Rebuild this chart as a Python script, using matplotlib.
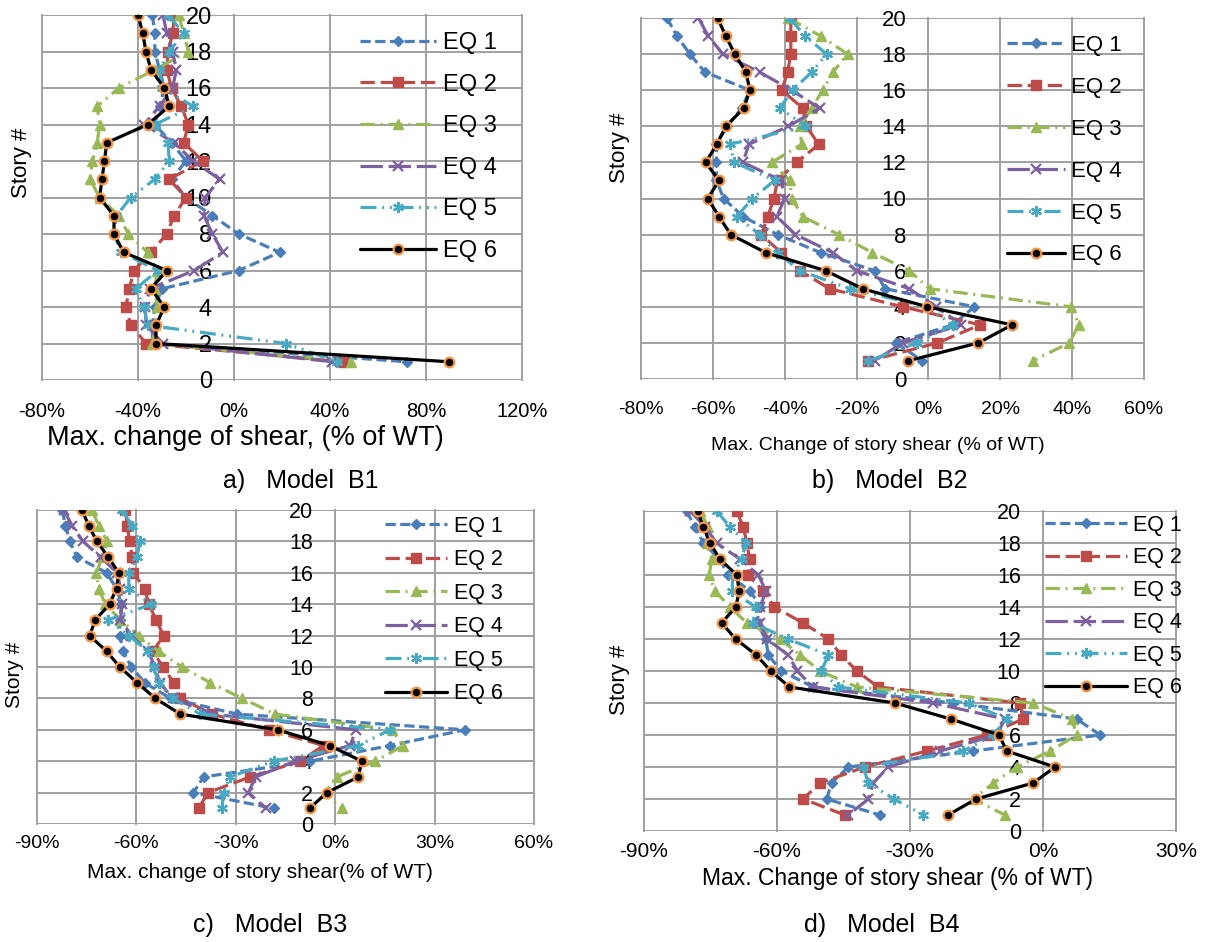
import matplotlib
matplotlib.use('Agg')
import matplotlib.pyplot as plt
from matplotlib.ticker import FuncFormatter
import numpy as np

plt.rcParams['font.family'] = ['Liberation Sans', 'DejaVu Sans']

W, H = 1207, 942

# story numbers, top to bottom
stories = list(range(20, 0, -1))
labels = ['EQ 1', 'EQ 2', 'EQ 3', 'EQ 4', 'EQ 5', 'EQ 6']

# Model B1 (% of WT), story 20 -> 1
b1_eq1 = [-34, -33, -33, -31, -29, -31, -33, -26, -20, -26, -20, -9, 2, 19, 2, -30, -33, -34, -34, 72]
b1_eq2 = [-25, -25.5, -27.5, -28, -26, -22, -19, -21, -13, -27, -20, -25, -28, -34.6, -41.6, -43.7, -45, -43, -36.6, 45.4]
b1_eq3 = [-23, -21, -19, -33, -48, -57, -56, -57, -59, -60, -56, -48, -44, -36, -32, -33, -32, -33, -34, 48.7]
b1_eq4 = [-29.6, -28, -25.6, -24, -25.6, -31, -37.5, -25, -17, -6, -12, -12.5, -9, -4.6, -16.6, -35, -37, -36.6, -29.6, 41]
b1_eq5 = [-27.5, -21, -27, -31, -30, -17, -33, -27.5, -27, -33, -43, -49, -50, -47, -31.7, -41, -37.5, -36, 21.7, 43]
b1_eq6 = [-40, -38, -36.7, -34.6, -29, -27, -36, -53, -54, -55, -56, -50, -50, -46, -28, -34.6, -29, -32.5, -32.5, 89.6]

# Model B2
b2_eq1 = [-72.8, -70, -66.4, -62.2, -49.7, -52, -56, -59, -59, -59, -57, -51.6, -42, -30, -15, -12, 12.8, 6.7, -8.9, -1.7]
b2_eq2 = [-38.3, -38.3, -38.3, -39.2, -40.8, -35, -34, -30.5, -36.7, -42, -43, -44.7, -46.5, -41, -35.8, -27.5, -7.2, 14.4, 2.5, -16.7]
b2_eq3 = [-39, -30, -22.5, -26.6, -29.4, -32.5, -35.8, -35.3, -43.6, -38.6, -38, -35, -25, -15.6, -5.3, 0.3, 39.7, 41.9, 39.2, 29]
b2_eq4 = [-64, -61.3, -57.2, -47, -38, -30.3, -39, -50, -51.6, -41, -40, -42.2, -37, -26.6, -20, -5.3, 2.2, 9.2, -7.2, -15]
b2_eq5 = [-38.6, -34.4, -28.3, -32.5, -37.8, -41.4, -34, -55.3, -54, -42.8, -49, -53.3, -47, -42, -35.8, -21.9, -0.3, 6.7, -3.3, -16.7]
b2_eq6 = [-58.7, -56.4, -53.9, -50.8, -49.7, -51.4, -56.4, -58.9, -62, -58.3, -61.4, -58.3, -55, -45.3, -28.6, -18.3, -0.3, 23.3, 13.9, -5.8]

# Model B3
b3_eq1 = [-82.4, -81.4, -80.1, -77.9, -69, -66, -64.5, -65, -65, -64, -61.5, -57.5, -49.7, -29.6, 39.2, 16.6, -7.5, -39.7, -42.8, -18.6]
b3_eq2 = [-63.3, -62.8, -62, -61.3, -61, -57.5, -56.3, -54, -51.8, -55, -52, -48.7, -46.7, -37.2, -20.1, -3.5, -10.6, -25.6, -38.4, -41.2]
b3_eq3 = [-73.4, -71.4, -68.8, -70.3, -72.1, -71.4, -69.4, -64.8, -59.3, -53.3, -46.2, -37.7, -28.1, -18.1, 17.1, 20.6, 12.1, 0.5, -3, 2]
b3_eq4 = [-81.9, -79.4, -76.1, -70.8, -65.8, -64.8, -64.3, -64.8, -61.5, -56.5, -54.3, -53, -49, -37.2, 6.3, 4.5, -12, -24, -26.2, -21]
b3_eq5 = [-64.3, -61.3, -59, -59.8, -62.3, -62.3, -55.5, -68.5, -62.3, -56.5, -54.8, -53.3, -49, -40.7, 16.6, 7, -18.6, -31.7, -33.7, -34.2]
b3_eq6 = [-76.4, -74.4, -71.9, -68.5, -65.3, -66, -68.1, -72.4, -74.1, -69, -65, -59.8, -54.3, -46.7, -17.4, -1.7, 8, 7, -2.5, -7.7]

# Model B4
b4_eq1 = [-80.4, -78.5, -76.6, -73, -71, -66, -63.8, -64.6, -62.5, -62, -59, -51.8, -20.3, 7.6, 12.9, -15.8, -43.9, -47.7, -48.8, -36.8]
b4_eq2 = [-69.1, -67.6, -66.8, -66.2, -66.5, -63.1, -60.6, -54.1, -48.4, -45.5, -42, -37.2, -5.2, -4.5, -12.7, -26.2, -40.2, -50.3, -54.1, -44.7]
b4_eq3 = [-77.4, -75.5, -75.9, -74.7, -75.3, -74, -70.6, -66.8, -59.3, -54.8, -50.3, -42, -2.2, 6.5, 7.6, 1.6, -5.9, -11.2, -15.7, -8.6]
b4_eq4 = [-79.6, -76.2, -73.6, -68.4, -64.2, -62.5, -63.8, -63.8, -62.3, -57.5, -55.4, -51.9, -24.8, -8.6, -10.4, -23.2, -34.9, -38.3, -39.4, -43.9]
b4_eq5 = [-73.6, -70.6, -67, -68, -69.9, -70.2, -64.8, -65.4, -57.5, -48.4, -50, -46.2, -16.8, -8.2, -11.2, -18, -40.5, -39.4, -33.6, -27]
b4_eq6 = [-77.9, -76.6, -75.1, -72.9, -69.1, -68.5, -69.3, -72.5, -69.3, -64.7, -61.4, -57.2, -33.4, -20.8, -9.9, -8.2, 2.7, -2.2, -15.1, -21.4]

# excel-like series styles
styles = [
    dict(color='#4A7EBB', dashes=(3.2, 1.4), marker='D', ms=5.5, mfc='#4A7EBB', mec='#4A7EBB'),
    dict(color='#BE4B48', dashes=(4.5, 1.8), marker='s', ms=6.5, mfc='#BE4B48', mec='#BE4B48'),
    dict(color='#98B954', dashes=(4.5, 1.8, 0.6, 1.8), marker='^', ms=7, mfc='#98B954', mec='#98B954'),
    dict(color='#7D60A0', dashes=(7, 1.8), marker='x', ms=7, mew=1.6),
    dict(color='#46AAC5', dashes=(5, 1.8, 0.6, 1.8, 0.6, 1.8), marker=(6, 2, 0), ms=8, mew=1.6),
    dict(color='black', marker='o', ms=7, mfc='black', mec='#F79646', mew=1.6),
]


def px_axes(fig, left, top, right, bottom):
    return fig.add_axes([left / W, 1 - bottom / H, (right - left) / W, (bottom - top) / H])


def draw_panel(ax, series, xlim, xstep, ytick_size, xtick_size, xpad):
    for vals, lab, st in zip(series, labels, styles):
        ax.plot(vals, stories, lw=2.3, label=lab, solid_capstyle='round', **st)
    ax.set_xlim(xlim)
    ax.set_ylim(0, 20)
    ax.set_xticks(np.arange(xlim[0], xlim[1] + 1, xstep))
    ax.set_yticks(range(0, 21, 2))
    ax.xaxis.set_major_formatter(FuncFormatter(lambda v, p: f'{v:.0f}%'))
    ax.grid(True, color='#A0A0A0', lw=1.4)
    ax.set_axisbelow(True)
    for line in ax.get_xgridlines() + ax.get_ygridlines():
        line.set_clip_on(False)
    for s in ax.spines.values():
        s.set_visible(False)
    # vertical axis sits at 0%
    ax.spines['left'].set_position(('data', 0))
    ax.tick_params(axis='y', length=0, pad=16, labelsize=ytick_size)
    ax.tick_params(axis='x', length=0, pad=xpad, labelsize=xtick_size)


def add_legend(ax, x, y, fs, spacing, hlen):
    ax.legend(loc='upper left', bbox_to_anchor=(x / W, 1 - y / H), bbox_transform=ax.figure.transFigure,
              frameon=False, fontsize=fs, labelspacing=spacing, handlelength=hlen, handletextpad=0.3,
              borderpad=0, borderaxespad=0)


fig = plt.figure(figsize=(W / 100, H / 100), dpi=100)

# a) Model B1
ax = px_axes(fig, 42, 15, 522, 380)
draw_panel(ax, [b1_eq1, b1_eq2, b1_eq3, b1_eq4, b1_eq5, b1_eq6], (-80, 120), 40, 17, 14.5, 16)
add_legend(ax, 360, 32, 17, 0.83, 3.2)
fig.text(22 / W, 1 - 163 / H, 'Story #', rotation=90, ha='center', va='center', fontsize=16)
fig.text(245 / W, 1 - 438 / H, 'Max. change of shear, (% of WT)', ha='center', va='center', fontsize=19.5)
fig.text(301 / W, 1 - 481 / H, 'a)   Model  B1', ha='center', va='center', fontsize=18)

# b) Model B2
ax = px_axes(fig, 641, 18, 1144, 379)
draw_panel(ax, [b2_eq1, b2_eq2, b2_eq3, b2_eq4, b2_eq5, b2_eq6], (-80, 60), 20, 16, 14, 16)
add_legend(ax, 1007, 35, 16, 0.94, 2.6)
fig.text(620 / W, 1 - 148 / H, 'Story #', rotation=90, ha='center', va='center', fontsize=16)
fig.text(878 / W, 1 - 445 / H, 'Max. Change of story shear (% of WT)', ha='center', va='center', fontsize=14)
fig.text(890 / W, 1 - 481 / H, 'b)   Model  B2', ha='center', va='center', fontsize=18)

# c) Model B3
ax = px_axes(fig, 37, 510, 534, 824)
draw_panel(ax, [b3_eq1, b3_eq2, b3_eq3, b3_eq4, b3_eq5, b3_eq6], (-90, 60), 30, 15.5, 14, 8)
add_legend(ax, 385, 516, 15.5, 0.58, 2.9)
fig.text(15 / W, 1 - 675 / H, 'Story #', rotation=90, ha='center', va='center', fontsize=15)
fig.text(260 / W, 1 - 873 / H, 'Max. change of story shear(% of WT)', ha='center', va='center', fontsize=15)
fig.text(270 / W, 1 - 925 / H, 'c)   Model  B3', ha='center', va='center', fontsize=18)

# d) Model B4
ax = px_axes(fig, 644, 511, 1176, 831)
draw_panel(ax, [b4_eq1, b4_eq2, b4_eq3, b4_eq4, b4_eq5, b4_eq6], (-90, 30), 30, 15.5, 15, 8)
add_legend(ax, 1045, 515, 15.5, 0.53, 3.8)
fig.text(620 / W, 1 - 680 / H, 'Story #', rotation=90, ha='center', va='center', fontsize=16)
fig.text(898 / W, 1 - 878 / H, 'Max. Change of story shear (% of WT)', ha='center', va='center', fontsize=16.5)
fig.text(882 / W, 1 - 925 / H, 'd)   Model  B4', ha='center', va='center', fontsize=18)

fig.savefig('out.png', dpi=100)
